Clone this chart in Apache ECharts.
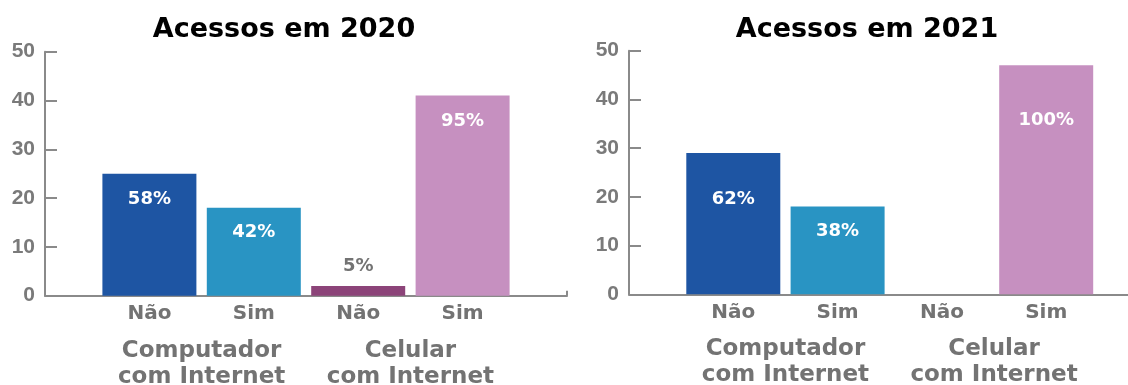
<!DOCTYPE html>
<html>
<head>
<meta charset="utf-8">
<script src="https://cdn.jsdelivr.net/npm/echarts@6/dist/echarts.min.js"></script>
<style>
html,body{margin:0;padding:0;background:#fff;}
#chart{width:1128px;height:385px;}
</style>
</head>
<body>
<div id="chart"></div>
<script>
// ---- data ----
const titles = ['Acessos em 2020', 'Acessos em 2021'];
const categories = ['', 'Não', 'Sim', 'Não', 'Sim', ''];
const groupLabels = ['', 'Computador\ncom Internet', '', 'Celular\ncom Internet', ''];
const values2020 = ['-', 25, 18, 2, 41, '-'];
const values2021 = ['-', 29, 18, 0, 47, '-'];
const pct2020 = ['', '58%', '42%', '5%', '95%', ''];
const pct2021 = ['', '62%', '38%', '', '100%', ''];
const yMin = 0, yMax = 50, yStep = 10;

// ---- styles ----
const barColors = [null, '#1e55a3', '#2994c3', '#8c4479', '#c690c0', null];
const labelGap2020 = [0, 17, 15, 11, 17, 0];
const labelGap2021 = [0, 37, 16, 0, 46, 0];
const grids = [
  {left: 45, top: 51.7, width: 522, height: 244, outerBoundsMode: 'none', containLabel: false},
  {left: 629, top: 50.7, width: 521.5, height: 243.6, outerBoundsMode: 'none', containLabel: false}
];
const titleX = [279, 862];
const axisGray = '#8a8a8a';
const textGray = '#737373';

function buildSeries(values, pcts, gaps, idx) {
  return {
    type: 'bar',
    xAxisIndex: idx * 2,
    yAxisIndex: idx,
    barWidth: 94,
    animation: false,
    data: values.map((v, i) => {
      if (v === '-') return '-';
      const small = v < 5;
      return {
        value: v,
        itemStyle: {color: barColors[i]},
        label: {
          show: pcts[i] !== '',
          formatter: pcts[i],
          position: small ? 'top' : 'insideTop',
          distance: gaps[i],
          color: small ? textGray : '#ffffff',
          fontFamily: 'DejaVu Sans',
          fontWeight: 'bold',
          fontSize: 18
        }
      };
    })
  };
}

const xAxes = [], yAxes = [], titleOpts = [];
[0, 1].forEach(k => {
  xAxes.push({
    type: 'category', gridIndex: k, data: categories, boundaryGap: false,
    axisLine: {show: true, lineStyle: {color: axisGray, width: 2}},
    axisTick: {show: true, inside: true, length: 5, lineStyle: {color: axisGray, width: 2},
      interval: (i) => i === categories.length - 1},
    axisLabel: {interval: 0, margin: 8, color: textGray, fontFamily: 'DejaVu Sans',
      fontWeight: 'bold', fontSize: 20},
    splitLine: {show: false}
  });
  xAxes.push({
    type: 'category', gridIndex: k, data: groupLabels, boundaryGap: true, position: 'bottom',
    axisLine: {show: false}, axisTick: {show: false},
    axisLabel: {interval: 0, margin: 42, color: textGray, fontFamily: 'DejaVu Sans',
      fontWeight: 'bold', fontSize: 23, lineHeight: 26},
    splitLine: {show: false}
  });
  yAxes.push({
    type: 'value', gridIndex: k, min: yMin, max: yMax, interval: yStep,
    axisLine: {show: true, lineStyle: {color: axisGray, width: 2}},
    axisTick: {show: true, inside: true, length: 12, lineStyle: {color: axisGray, width: 2}},
    axisLabel: {margin: 10, color: '#7a7a7a', fontFamily: 'Liberation Sans',
      fontWeight: 'bold', fontSize: 21},
    splitLine: {show: false}
  });
  titleOpts.push({
    text: titles[k], left: titleX[k], top: 11, textAlign: 'center',
    textStyle: {fontFamily: 'DejaVu Sans', fontWeight: 'bold', fontSize: 27, color: '#000'}
  });
});

const chart = echarts.init(document.getElementById('chart'), null, {renderer: 'canvas'});
chart.setOption({
  animation: false,
  title: titleOpts,
  grid: grids,
  xAxis: xAxes,
  yAxis: yAxes,
  series: [
    buildSeries(values2020, pct2020, labelGap2020, 0),
    buildSeries(values2021, pct2021, labelGap2021, 1)
  ]
});
</script>
</body>
</html>
